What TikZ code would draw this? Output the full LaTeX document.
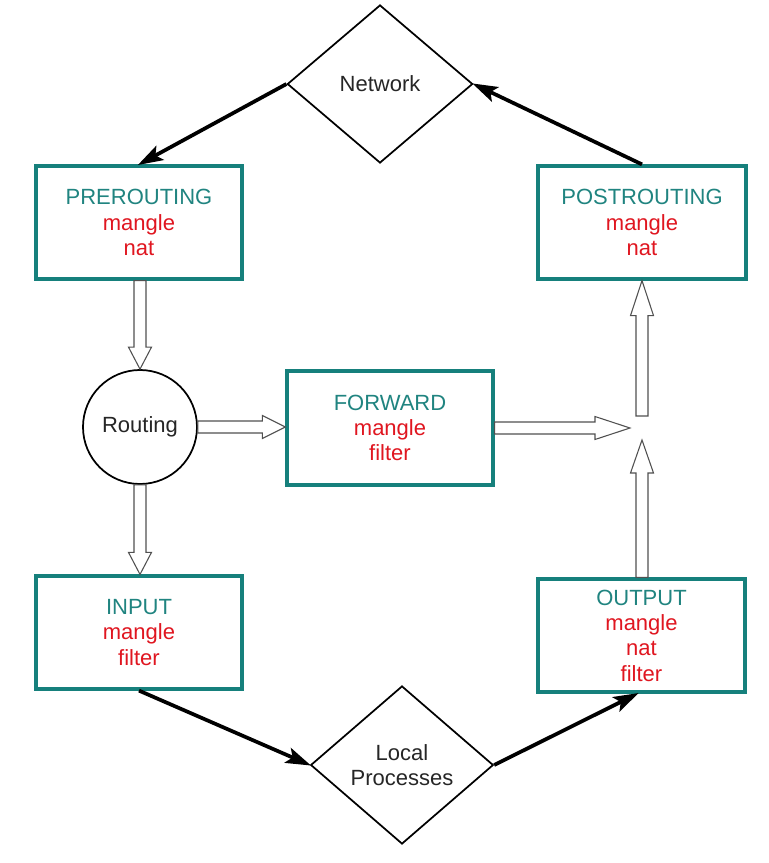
\documentclass[tikz,border=0pt]{standalone}
\usepackage{fontspec}
\setmainfont{Liberation Sans}
\usetikzlibrary{shapes.geometric,arrows.meta,calc}
\definecolor{tealbd}{RGB}{22,128,124}
\definecolor{tealtx}{RGB}{32,132,128}
\definecolor{redtx}{RGB}{224,22,32}
\definecolor{hollowc}{RGB}{80,80,80}
\newcommand\hollowdown[3]{\draw[hol] ($(#1)+(-6,0)$) -- ($(#2)+(-6,-#3)$) -- ($(#2)+(-11.5,-#3)$) -- (#2) -- ($(#2)+(11.5,-#3)$) -- ($(#2)+(6,-#3)$) -- ($(#1)+(6,0)$) -- cycle;}
\newcommand\hollowup[3]{\draw[hol] ($(#1)+(-6,0)$) -- ($(#2)+(-6,#3)$) -- ($(#2)+(-11.5,#3)$) -- (#2) -- ($(#2)+(11.5,#3)$) -- ($(#2)+(6,#3)$) -- ($(#1)+(6,0)$) -- cycle;}
\newcommand\hollowright[3]{\draw[hol] ($(#1)+(0,-6)$) -- ($(#2)+(-#3,-6)$) -- ($(#2)+(-#3,-11.5)$) -- (#2) -- ($(#2)+(-#3,11.5)$) -- ($(#2)+(-#3,6)$) -- ($(#1)+(0,6)$) -- cycle;}
\begin{document}
\begin{tikzpicture}[x=0.75pt,y=-0.75pt,
  txt/.style={font=\fontsize{16.5}{19}\selectfont, align=center},
  chain/.style={txt, draw=tealbd, line width=2.4pt, fill=white, inner sep=0pt},
  dia/.style={txt, diamond, draw=black, line width=1.3pt, fill=white, inner sep=0pt, text=black!85},
  hol/.style={draw=hollowc, line width=0.8pt, fill=white, line join=miter},
  blk/.style={draw=black, line width=2.8pt, -{Stealth[length=19pt,width=12pt,inset=4pt]}, shorten >=-1pt}
  ]
\useasboundingbox (0,0) rectangle (768,863);
\fill[white] (0,0) rectangle (768,863);

\node[chain, minimum width=154.5pt, minimum height=84.75pt] (pre) at (139,222.5)
  {\textcolor{tealtx}{PREROUTING}\\\textcolor{redtx}{mangle}\\\textcolor{redtx}{nat}};
\node[chain, minimum width=156pt, minimum height=84.75pt] (post) at (642,222.5)
  {\textcolor{tealtx}{POSTROUTING}\\\textcolor{redtx}{mangle}\\\textcolor{redtx}{nat}};
\node[chain, minimum width=154.5pt, minimum height=85.5pt] (fw) at (390,428)
  {\textcolor{tealtx}{FORWARD}\\\textcolor{redtx}{mangle}\\\textcolor{redtx}{filter}};
\node[chain, minimum width=154.5pt, minimum height=84.75pt] (in) at (139,632.5)
  {\textcolor{tealtx}{INPUT}\\\textcolor{redtx}{mangle}\\\textcolor{redtx}{filter}};
\node[chain, minimum width=155.25pt, minimum height=84.75pt] (out) at (641.5,635.5)
  {\textcolor{tealtx}{OUTPUT}\\\textcolor{redtx}{mangle}\\\textcolor{redtx}{nat}\\\textcolor{redtx}{filter}};
\node[txt, circle, draw=black, line width=1.3pt, fill=white, minimum size=85.5pt, inner sep=0pt, text=black!85] (rt) at (140,427) {Routing};
\node[dia, minimum width=139pt, minimum height=118.5pt] (net) at (380,84) {Network};
\node[dia, minimum width=137pt, minimum height=118.5pt] (loc) at (402,765) {Local\\Processes};
\coordinate (j) at (642,428);

% hollow arrows
\coordinate (a1) at (rt.north |- pre.south);
\hollowdown{a1}{rt.north}{22}
\coordinate (b1) at (rt.south |- in.north);
\hollowdown{rt.south}{b1}{22}
\coordinate (c1) at (fw.west |- rt.east);
\hollowright{rt.east}{c1}{23}
\coordinate (d0) at (fw.east |- j);
\coordinate (d1) at ($(j)+(-12,0)$);
\hollowright{d0}{d1}{35}
\coordinate (e0) at ($(j)+(0,-12)$);
\coordinate (e1) at (j |- post.south);
\hollowup{e0}{e1}{35}
\coordinate (f0) at (j |- out.north);
\coordinate (f1) at ($(j)+(0,12)$);
\hollowup{f0}{f1}{33}

% black arrows
\draw[blk] (net.west) -- (pre.north);
\draw[blk] (post.north) -- (net.east);
\draw[blk] (in.south) -- (loc.west);
\draw[blk] (loc.east) -- ($(out.south)+(-4,0)$);
\end{tikzpicture}
\end{document}
